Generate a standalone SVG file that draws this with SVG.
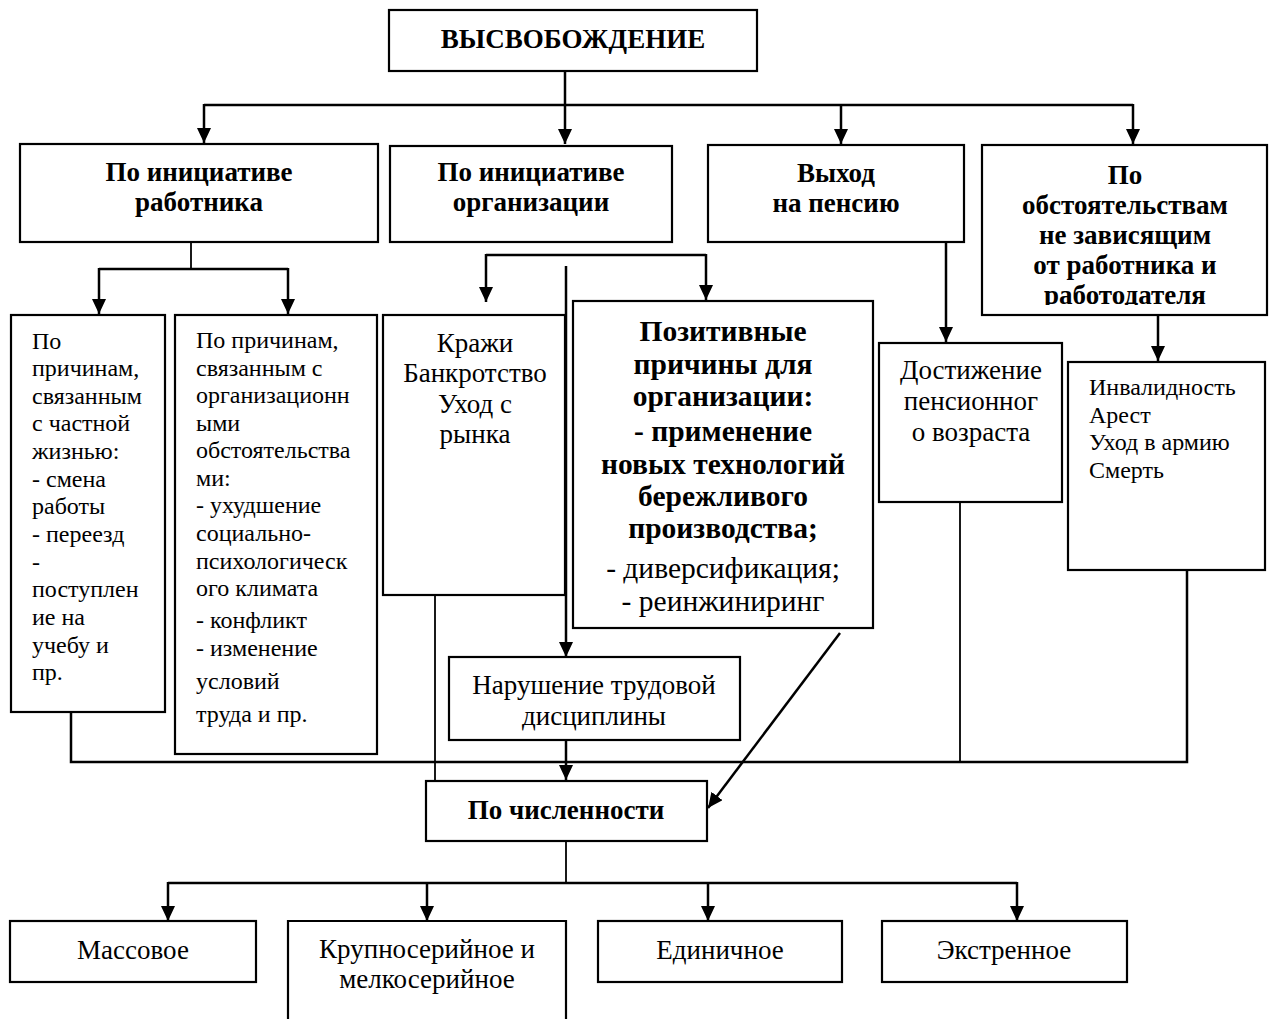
<svg xmlns="http://www.w3.org/2000/svg" width="1272" height="1019" viewBox="0 0 1272 1019">
<defs>
<marker id="ah" viewBox="0 0 15 14" refX="15" refY="7" markerWidth="15" markerHeight="14" markerUnits="userSpaceOnUse" orient="auto">
<path d="M0,0 L15,7 L0,14 z" fill="#000"/>
</marker>
<clipPath id="clip-circ">
<rect x="982" y="145" width="285" height="160"/>
</clipPath>
<style>
.box{fill:#fff;stroke:#000;stroke-width:2.2}
.t{font-family:'Liberation Serif','Times New Roman',serif;font-size:24px;fill:#000}
.h{font-weight:bold;font-size:27px;text-anchor:middle}
.m{font-size:27px;text-anchor:middle}
.p{font-size:29.5px;text-anchor:middle}
.b{font-weight:bold}
.c{text-anchor:middle}
.ln{fill:none;stroke:#000;stroke-width:2.5}
.th{fill:none;stroke:#000;stroke-width:1.8}
.ar{fill:none;stroke:#000;stroke-width:2.5;marker-end:url(#ah)}
</style>
</defs>
<rect width="1272" height="1019" fill="#fff"/>

<g id="connectors">
<line class="ln" x1="565" y1="71" x2="565" y2="105"/>
<line class="ln" x1="204" y1="105" x2="1133" y2="105"/>
<line class="ar" x1="204" y1="104" x2="204" y2="143"/>
<line class="ar" x1="565" y1="104" x2="565" y2="144"/>
<line class="ar" x1="841" y1="104" x2="841" y2="144"/>
<line class="ar" x1="1133" y1="104" x2="1133" y2="144"/>

<line class="th" x1="191" y1="243" x2="191" y2="269"/>
<line class="ln" x1="99" y1="269" x2="288" y2="269"/>
<line class="ar" x1="99" y1="268" x2="99" y2="314"/>
<line class="ar" x1="288" y1="268" x2="288" y2="314"/>

<line class="ln" x1="486" y1="255" x2="706" y2="255"/>
<line class="ar" x1="486" y1="254" x2="486" y2="302"/>
<line class="ar" x1="706" y1="254" x2="706" y2="300"/>
<line class="ar" x1="566" y1="266" x2="566" y2="657"/>

<line class="ar" x1="946" y1="243" x2="946" y2="342"/>
<line class="ar" x1="1158" y1="316" x2="1158" y2="361"/>

<polyline class="ln" points="71,712 71,762 1187,762 1187,570"/>
<line class="th" x1="960" y1="502" x2="960" y2="762"/>
<line class="th" x1="435" y1="596" x2="435" y2="781"/>
<line class="ar" x1="566" y1="741" x2="566" y2="780"/>
<line class="ar" x1="840" y1="633" x2="708" y2="808"/>

<line class="th" x1="566" y1="842" x2="566" y2="883"/>
<line class="ln" x1="168" y1="883" x2="1017" y2="883"/>
<line class="ar" x1="168" y1="882" x2="168" y2="921"/>
<line class="ar" x1="427" y1="882" x2="427" y2="921"/>
<line class="ar" x1="708" y1="882" x2="708" y2="921"/>
<line class="ar" x1="1017" y1="882" x2="1017" y2="921"/>
</g>

<g id="n-top">
<rect class="box" x="389" y="10" width="368" height="61"/>
<text class="t h" x="573" y="48">ВЫСВОБОЖДЕНИЕ</text>
</g>

<g id="n-worker">
<rect class="box" x="20" y="144" width="358" height="98"/>
<text class="t h" x="199" y="181">По инициативе</text>
<text class="t h" x="199" y="211">работника</text>
</g>

<g id="n-org">
<rect class="box" x="390" y="146" width="282" height="96"/>
<text class="t h" x="531" y="181">По инициативе</text>
<text class="t h" x="531" y="211">организации</text>
</g>

<g id="n-pension">
<rect class="box" x="708" y="145" width="256" height="97"/>
<text class="t h" x="836" y="182">Выход</text>
<text class="t h" x="836" y="212">на пенсию</text>
</g>

<g id="n-circ">
<rect class="box" x="982" y="145" width="285" height="170"/>
<g clip-path="url(#clip-circ)">
<text class="t h" x="1125" y="184">По</text>
<text class="t h" x="1125" y="214">обстоятельствам</text>
<text class="t h" x="1125" y="244">не зависящим</text>
<text class="t h" x="1125" y="274">от работника и</text>
<text class="t h" x="1125" y="304">работодателя</text>
</g>
</g>

<g id="n-private">
<rect class="box" x="11" y="315" width="154" height="397"/>
<text class="t" x="32" y="349">По</text>
<text class="t" x="32" y="376">причинам,</text>
<text class="t" x="32" y="404">связанным</text>
<text class="t" x="32" y="431">с частной</text>
<text class="t" x="32" y="459">жизнью:</text>
<text class="t" x="32" y="487">- смена</text>
<text class="t" x="32" y="514">работы</text>
<text class="t" x="32" y="542">- переезд</text>
<text class="t" x="32" y="570">-</text>
<text class="t" x="32" y="597">поступлен</text>
<text class="t" x="32" y="625">ие на</text>
<text class="t" x="32" y="653">учебу и</text>
<text class="t" x="32" y="680">пр.</text>
</g>

<g id="n-orgcirc">
<rect class="box" x="175" y="315" width="202" height="439"/>
<text class="t" x="196" y="348">По причинам,</text>
<text class="t" x="196" y="376">связанным с</text>
<text class="t" x="196" y="403">организационн</text>
<text class="t" x="196" y="431">ыми</text>
<text class="t" x="196" y="458">обстоятельства</text>
<text class="t" x="196" y="486">ми:</text>
<text class="t" x="196" y="513">- ухудшение</text>
<text class="t" x="196" y="541">социально-</text>
<text class="t" x="196" y="569">психологическ</text>
<text class="t" x="196" y="596">ого климата</text>
<text class="t" x="196" y="628">- конфликт</text>
<text class="t" x="196" y="656">- изменение</text>
<text class="t" x="196" y="689">условий</text>
<text class="t" x="196" y="722">труда и пр.</text>
</g>

<g id="n-theft">
<rect class="box" x="383" y="315" width="182" height="280"/>
<text class="t m" x="475" y="352">Кражи</text>
<text class="t m" x="475" y="382">Банкротство</text>
<text class="t m" x="475" y="413">Уход с</text>
<text class="t m" x="475" y="443">рынка</text>
</g>

<g id="n-positive">
<rect class="box" x="573" y="301" width="300" height="327"/>
<text class="t p b" x="723" y="341">Позитивные</text>
<text class="t p b" x="723" y="374">причины для</text>
<text class="t p b" x="723" y="406">организации:</text>
<text class="t p b" x="723" y="441">- применение</text>
<text class="t p b" x="723" y="474">новых технологий</text>
<text class="t p b" x="723" y="506">бережливого</text>
<text class="t p b" x="723" y="538">производства;</text>
<text class="t p" x="723" y="578">- диверсификация;</text>
<text class="t p" x="723" y="611">- реинжиниринг</text>
</g>

<g id="n-discipline">
<rect class="box" x="449" y="657" width="291" height="83"/>
<text class="t m" x="594" y="694">Нарушение трудовой</text>
<text class="t m" x="594" y="725">дисциплины</text>
</g>

<g id="n-age">
<rect class="box" x="879" y="343" width="183" height="159"/>
<text class="t m" x="971" y="379">Достижение</text>
<text class="t m" x="971" y="410">пенсионног</text>
<text class="t m" x="971" y="441">о возраста</text>
</g>

<g id="n-disab">
<rect class="box" x="1068" y="362" width="197" height="208"/>
<text class="t" x="1089" y="395">Инвалидность</text>
<text class="t" x="1089" y="423">Арест</text>
<text class="t" x="1089" y="450">Уход в армию</text>
<text class="t" x="1089" y="478">Смерть</text>
</g>

<g id="n-count">
<rect class="box" x="426" y="781" width="281" height="60"/>
<text class="t h" x="566" y="819">По численности</text>
</g>

<g id="n-mass">
<rect class="box" x="10" y="921" width="246" height="61"/>
<text class="t m" x="133" y="959">Массовое</text>
</g>

<g id="n-series">
<path class="box" d="M288,1020 L288,921 L566,921 L566,1020"/>
<text class="t m" x="427" y="958">Крупносерийное и</text>
<text class="t m" x="427" y="988">мелкосерийное</text>
</g>

<g id="n-single">
<rect class="box" x="598" y="921" width="244" height="61"/>
<text class="t m" x="720" y="959">Единичное</text>
</g>

<g id="n-extra">
<rect class="box" x="882" y="921" width="245" height="61"/>
<text class="t m" x="1004" y="959">Экстренное</text>
</g>
</svg>
